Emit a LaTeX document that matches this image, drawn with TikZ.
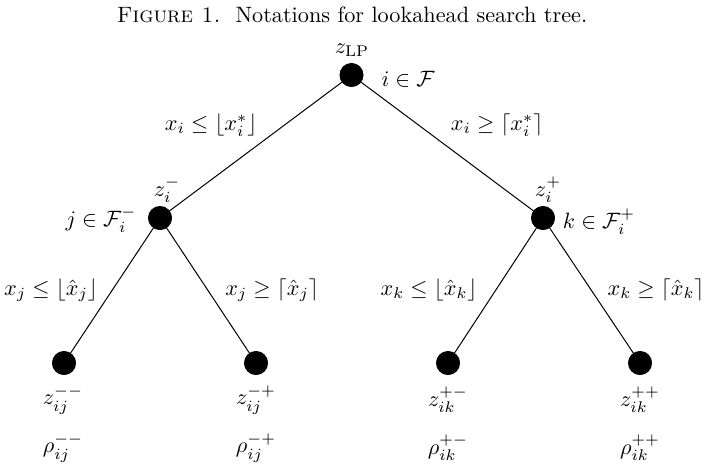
\documentclass[tikz,border=0pt]{standalone}
\usepackage{amsmath,amssymb}
\begin{document}
\begin{tikzpicture}[x=0.45pt,y=-0.45pt,
  dot/.style={circle,fill=black,draw=black,minimum size=10.4pt,inner sep=0pt},
  lbl/.style={inner sep=0pt,anchor=center},
  edge/.style={draw=black,line width=0.45pt}]
\useasboundingbox (0,0) rectangle (704,464);
\node[lbl] (cap) at (352,15) {\textsc{Figure 1.}\ \ Notations for lookahead search tree.};
% nodes
\node[dot] (r) at (351.5,75) {};
\node[dot] (l) at (160,218) {};
\node[dot] (rr) at (543,218) {};
\node[dot] (ll1) at (64,363) {};
\node[dot] (ll2) at (256,363) {};
\node[dot] (rl1) at (448,363) {};
\node[dot] (rl2) at (640,363) {};
% edges
\begin{scope}[on background layer/.try]
\end{scope}
\draw[edge] (r.center) -- (l.center);
\draw[edge] (r.center) -- (rr.center);
\draw[edge] (l.center) -- (ll1.center);
\draw[edge] (l.center) -- (ll2.center);
\draw[edge] (rr.center) -- (rl1.center);
\draw[edge] (rr.center) -- (rl2.center);
% redraw dots on top
\foreach \n in {r,l,rr,ll1,ll2,rl1,rl2} \fill (\n) circle (5.2pt);
% labels
\node[lbl] (zlp) at (352,50) {$z_{\mathrm{LP}}$};
\node[lbl] (iF) at (408,79) {$i\in\mathcal{F}$};
\node[lbl] (e1) at (211,125) {$x_i\le\lfloor x_i^*\rfloor$};
\node[lbl] (e2) at (497,125) {$x_i\ge\lceil x_i^*\rceil$};
\node[lbl] (zm) at (167,190) {$z_i^-$};
\node[lbl] (zp) at (548,190) {$z_i^+$};
\node[lbl] (jF) at (101,220) {$j\in\mathcal{F}_i^-$};
\node[lbl] (kF) at (599,222) {$k\in\mathcal{F}_i^+$};
\node[lbl] (e3) at (51,290) {$x_j\le\lfloor\hat{x}_j\rfloor$};
\node[lbl] (e4) at (272,290) {$x_j\ge\lceil\hat{x}_j\rceil$};
\node[lbl] (e5) at (429,290) {$x_k\le\lfloor\hat{x}_k\rfloor$};
\node[lbl] (e6) at (656,290) {$x_k\ge\lceil\hat{x}_k\rceil$};
\node[lbl] (z1) at (63,400) {$z_{ij}^{--}$};
\node[lbl] (z2) at (256,400) {$z_{ij}^{-+}$};
\node[lbl] (z3) at (448,400) {$z_{ik}^{+-}$};
\node[lbl] (z4) at (640,400) {$z_{ik}^{++}$};
\node[lbl] (p1) at (63,448) {$\rho_{ij}^{--}$};
\node[lbl] (p2) at (256,448) {$\rho_{ij}^{-+}$};
\node[lbl] (p3) at (448,448) {$\rho_{ik}^{+-}$};
\node[lbl] (p4) at (640,448) {$\rho_{ik}^{++}$};
\end{tikzpicture}
\end{document}
